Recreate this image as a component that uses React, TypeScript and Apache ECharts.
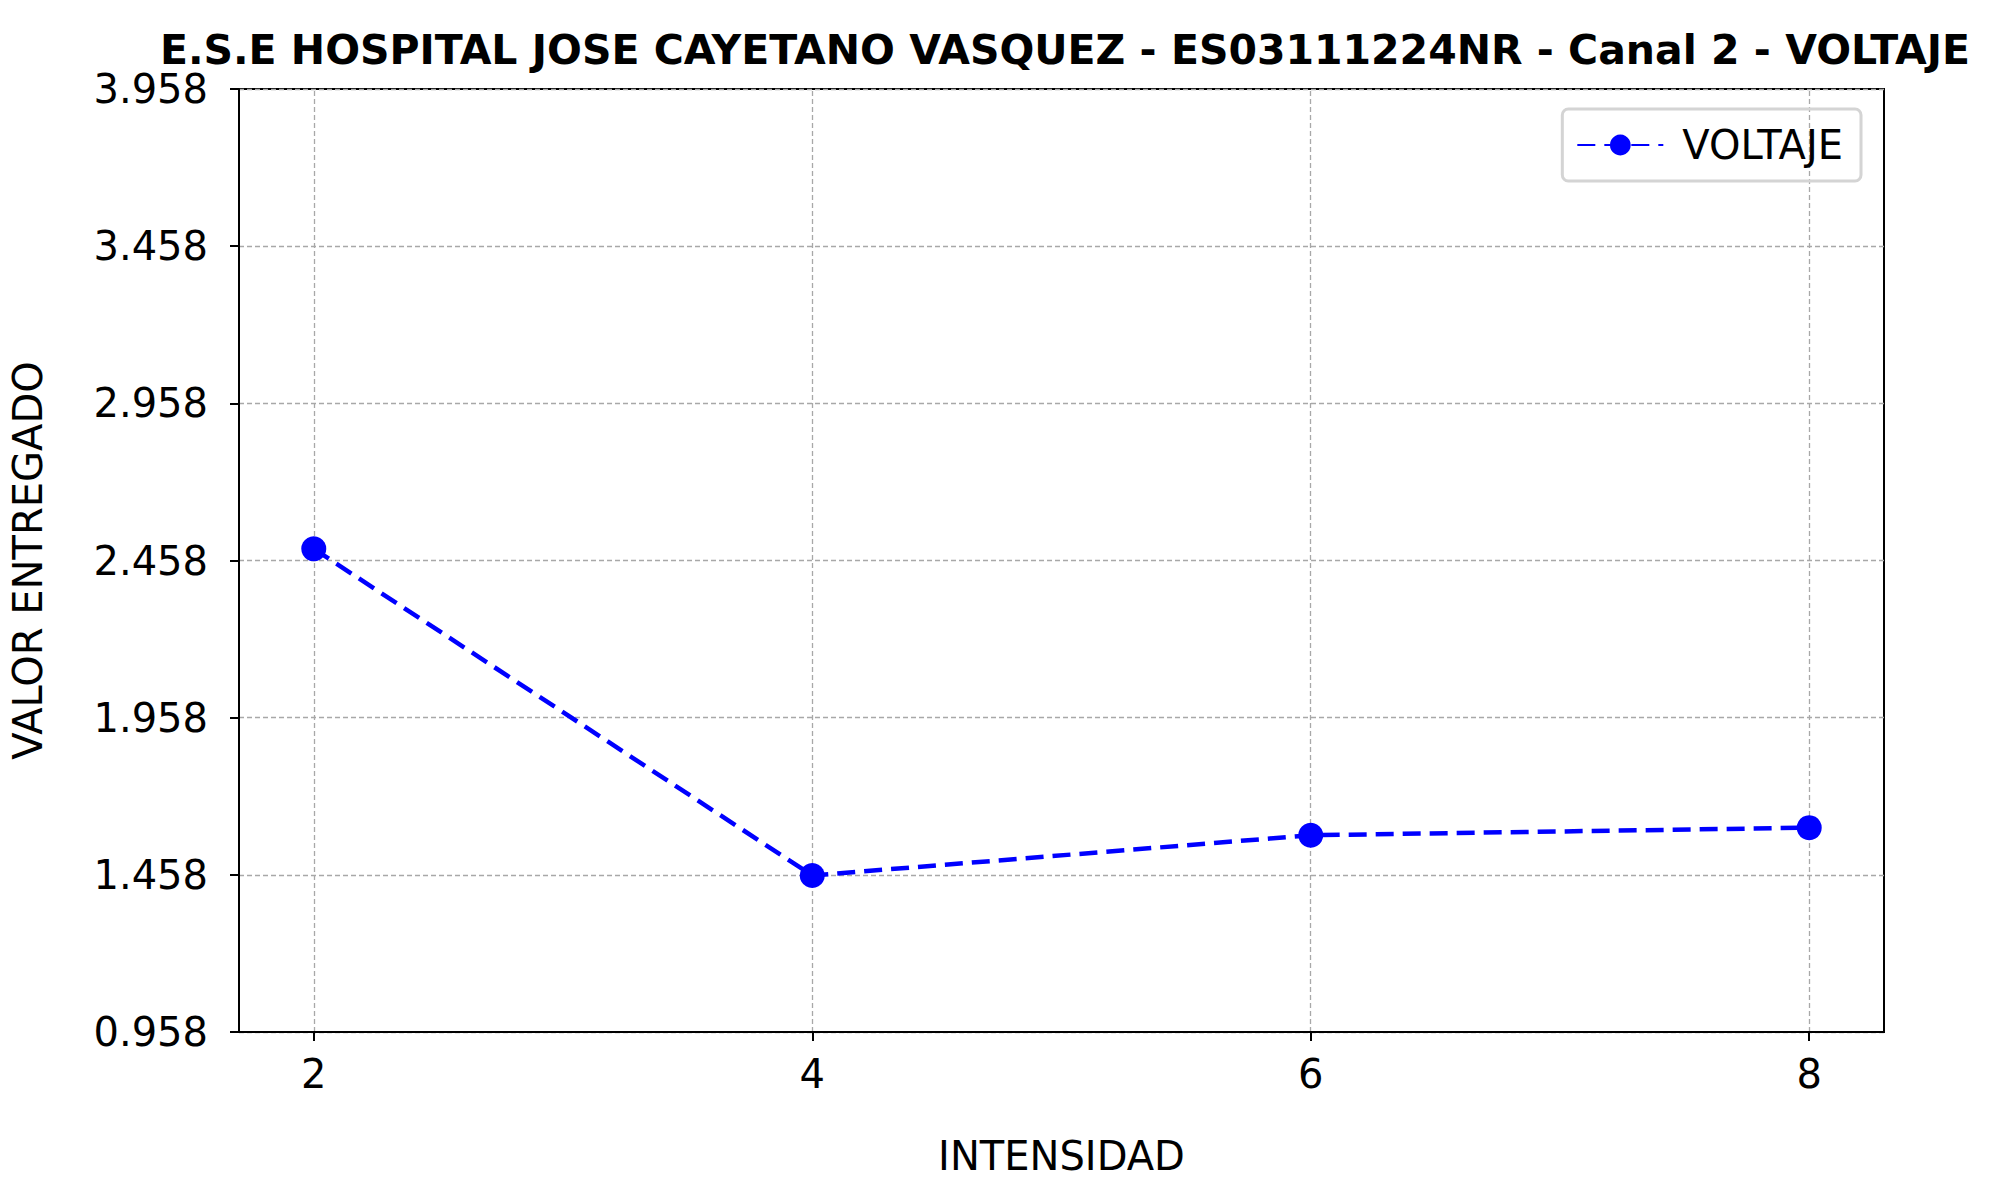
import React, { useEffect, useRef } from "react";
import * as echarts from "echarts";

const intensidad = [2, 4, 6, 8];
const voltaje = [2.495, 1.456, 1.584, 1.608];
const xTicks = [2, 4, 6, 8];

const FONT = "DejaVu Sans";

const App: React.FC = () => {
  const chartRef = useRef<HTMLDivElement>(null);

  useEffect(() => {
    document.body.style.margin = "0";
    if (!chartRef.current) return;
    const chart = echarts.init(chartRef.current, null, { renderer: "svg" });
    chart.setOption({
      animation: false,
      backgroundColor: "#ffffff",
      textStyle: { fontFamily: FONT },
      title: {
        text: "E.S.E HOSPITAL JOSE CAYETANO VASQUEZ - ES03111224NR - Canal 2 - VOLTAJE",
        left: 1060,
        textAlign: "center",
        top: 24,
        textStyle: { fontFamily: FONT, fontWeight: "bold", fontSize: 41, color: "#000" },
      },
      legend: {
        right: 144,
        top: 109,
        orient: "vertical",
        padding: [16, 18, 16, 14],
        borderColor: "#d4d4d4",
        borderWidth: 3,
        borderRadius: 6,
        itemWidth: 86,
        itemHeight: 26,
        itemGap: 10,
        textStyle: { fontFamily: FONT, fontSize: 40, color: "#000", padding: [0, 0, 0, 14] },
        data: ["VOLTAJE"],
      },
      grid: {
        left: 239,
        right: 2005 - 1884,
        top: 89,
        bottom: 1188 - 1032,
        show: true,
        borderColor: "#000",
        borderWidth: 2,
        containLabel: false,
      },
      xAxis: {
        type: "value",
        min: 1.7,
        max: 8.3,
        name: "INTENSIDAD",
        nameLocation: "middle",
        nameGap: 104,
        nameTextStyle: { fontFamily: FONT, fontSize: 40, color: "#000" },
        axisLine: { show: true, onZero: false, lineStyle: { color: "#000", width: 2 } },
        axisTick: { show: true, customValues: xTicks, length: 9, lineStyle: { color: "#000", width: 2 } },
        axisLabel: { customValues: xTicks, fontFamily: FONT, fontSize: 40, color: "#000", margin: 22 },
        splitLine: { show: false },
      },
      yAxis: {
        type: "value",
        min: 0.958,
        max: 3.958,
        interval: 0.5,
        name: "VALOR ENTREGADO",
        nameLocation: "middle",
        nameGap: 191,
        nameRotate: 90,
        nameTextStyle: { fontFamily: FONT, fontSize: 40, color: "#000" },
        axisLine: { show: true, lineStyle: { color: "#000", width: 2 } },
        axisTick: { show: true, length: 9, lineStyle: { color: "#000", width: 2 } },
        axisLabel: {
          fontFamily: FONT,
          fontSize: 40,
          color: "#000",
          margin: 31,
          formatter: (v: number) => v.toFixed(3),
        },
        splitLine: { show: true, lineStyle: { color: "#a8a8a8", type: [5, 3], width: 1.3 } },
      },
      series: [
        {
          name: "VOLTAJE",
          type: "line",
          data: intensidad.map((x, i) => [x, voltaje[i]]),
          symbol: "circle",
          symbolSize: 25,
          itemStyle: { color: "#0000ff" },
          lineStyle: { color: "#0000ff", width: 4.5, type: [18, 9] },
          markLine: {
            silent: true,
            symbol: "none",
            label: { show: false },
            lineStyle: { color: "#a8a8a8", type: [5, 3], width: 1.3 },
            data: xTicks.map((x) => ({ xAxis: x })),
            z: 0,
          },
        },
      ],
    });
    return () => chart.dispose();
  }, []);

  return <div ref={chartRef} style={{ width: 2005, height: 1188 }} />;
};

export default App;
